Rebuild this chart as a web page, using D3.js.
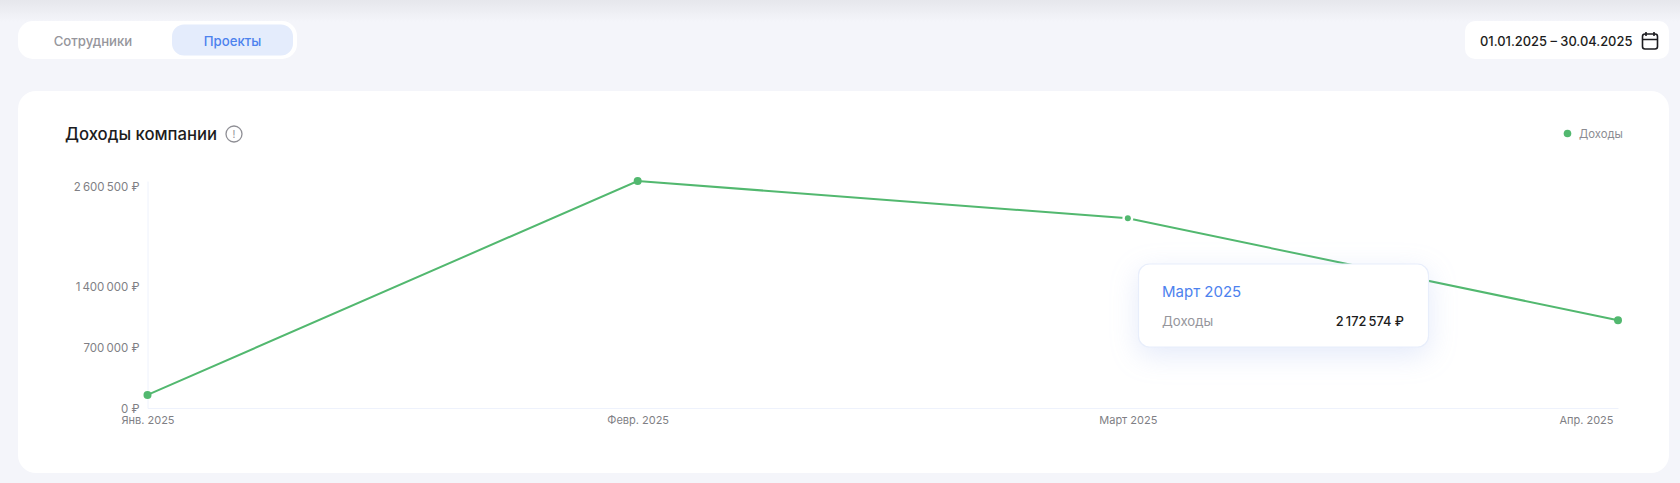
<!DOCTYPE html>
<html>
<head>
<meta charset="utf-8">
<script src="https://cdn.jsdelivr.net/npm/d3@7"></script>
<style>
html, body { margin: 0; padding: 0; background: #f4f5fa; overflow: hidden; }
svg { display: block; font-family: Inter, "Noto Sans", sans-serif; }
.axis text { fill: #7f7f85; font-family: Inter, sans-serif; }
.axis path, .axis line { stroke: #eef2fc; }
</style>
</head>
<body>
<svg id="board" width="1680" height="483"></svg>
<script>
const months = ["Янв. 2025", "Февр. 2025", "Март 2025", "Апр. 2025"];
const incomes = [150000, 2600500, 2172574, 1005000];
const yTicks = [0, 700000, 1400000, 2600500];
const tabs = ["Сотрудники", "Проекты"];
const activeMonth = 2;

const green = "#52b86f";
const blue = "#4d82ee";
const grey = "#8c8c92";
const dark = "#1c1c20";

const svg = d3.select("#board");
const money = d3.formatLocale({ decimal: ",", thousands: "\u2009", grouping: [3], currency: ["", " ₽"] }).format("$,d");

const defs = svg.append("defs");
const topFade = defs.append("linearGradient").attr("id", "topFade").attr("x1", 0).attr("x2", 0).attr("y1", 0).attr("y2", 1);
topFade.append("stop").attr("offset", 0).attr("stop-color", "#e6e7ec");
topFade.append("stop").attr("offset", 1).attr("stop-color", "#f4f5fa");

svg.append("rect").attr("width", 1680).attr("height", 22).attr("fill", "url(#topFade)");

// tabs
svg.append("rect").attr("x", 18).attr("y", 21).attr("width", 279).attr("height", 38).attr("rx", 15).attr("fill", "#fff");
svg.append("rect").attr("x", 172).attr("y", 24.5).attr("width", 121).attr("height", 31).attr("rx", 12).attr("fill", "#e4ecfc");
svg.append("text").attr("x", 93).attr("y", 45.5).attr("text-anchor", "middle").attr("font-size", 13.2).attr("font-weight", 500).attr("fill", "#96969c").text(tabs[0]);
svg.append("text").attr("x", 232.5).attr("y", 45.5).attr("text-anchor", "middle").attr("font-size", 13.2).attr("font-weight", 500).attr("fill", blue).text(tabs[1]);

// date picker
svg.append("rect").attr("x", 1465).attr("y", 21).attr("width", 204).attr("height", 38).attr("rx", 10).attr("fill", "#fff");
svg.append("text").attr("x", 1480).attr("y", 45.5).attr("font-size", 12.9).attr("font-weight", 500).attr("fill", dark).text("01.01.2025 – 30.04.2025");
const cal = svg.append("g").attr("fill", "none").attr("stroke", dark).attr("stroke-width", 1.6);
cal.append("rect").attr("x", 1642.5).attr("y", 34).attr("width", 15).attr("height", 15).attr("rx", 2.5);
cal.append("path").attr("d", "M1642.5 39.5H1657.5M1646 32V36M1654 32V36");

// main card
svg.append("rect").attr("x", 18).attr("y", 91).attr("width", 1651).attr("height", 382).attr("rx", 18).attr("fill", "#fff");
svg.append("text").attr("x", 65).attr("y", 139.5).attr("font-size", 16.7).attr("font-weight", 500).attr("fill", dark).text("Доходы компании");
const info = svg.append("g");
info.append("circle").attr("cx", 234).attr("cy", 134).attr("r", 8).attr("fill", "none").attr("stroke", "#8f8f95").attr("stroke-width", 1.3);
info.append("text").attr("x", 234).attr("y", 138).attr("text-anchor", "middle").attr("font-size", 10).attr("fill", "#8f8f95").text("!");

// legend
svg.append("circle").attr("cx", 1567.5).attr("cy", 133.5).attr("r", 3.8).attr("fill", green);
svg.append("text").attr("x", 1579).attr("y", 137.5).attr("font-size", 11.3).attr("fill", grey).text("Доходы");

// scales
const x = d3.scalePoint().domain(months).range([147.5, 1618]);
const y = d3.scaleLinear().domain([0, 2600500]).range([408, 181]);

const yAxis = svg.append("g").attr("class", "axis").attr("transform", "translate(147.5,0)")
    .call(d3.axisLeft(y).tickValues(yTicks).tickSize(0).tickPadding(8).tickFormat(money));
yAxis.selectAll("text").attr("font-size", 11.5).attr("dy", d => d === 2600500 ? "0.82em" : "0.42em");

const xAxis = svg.append("g").attr("class", "axis").attr("transform", "translate(0,408)")
    .call(d3.axisBottom(x).tickSize(0).tickPadding(8));
xAxis.selectAll("text").attr("font-size", 11);
xAxis.selectAll("text").filter(d => d === months[3]).attr("text-anchor", "end").attr("dx", -5).attr("x", 0);

// line
const line = d3.line().x((d, i) => x(months[i])).y(d => y(d));
svg.append("path").attr("d", line(incomes)).attr("fill", "none").attr("stroke", green).attr("stroke-width", 2);

svg.selectAll(".pt").data(incomes).enter().append("circle")
    .attr("class", "pt")
    .attr("cx", (d, i) => x(months[i]))
    .attr("cy", d => y(d))
    .attr("r", (d, i) => i === activeMonth ? 3 : 4)
    .attr("fill", green)
    .attr("stroke", (d, i) => i === activeMonth ? "#fff" : "none")
    .attr("stroke-width", 5)
    .style("paint-order", "stroke");

// tooltip
svg.append("rect").attr("x", 1138.5).attr("y", 264).attr("width", 290).attr("height", 83).attr("rx", 11)
    .attr("fill", "#fff").attr("stroke", "#e8eefb").attr("stroke-width", 1.2)
    .style("filter", "drop-shadow(0 8px 14px rgba(120,150,230,0.2))");
svg.append("text").attr("x", 1162).attr("y", 297).attr("font-size", 15).attr("fill", blue).text(months[activeMonth]);
svg.append("text").attr("x", 1162).attr("y", 326).attr("font-size", 13.2).attr("fill", "#96969c").text("Доходы");
svg.append("text").attr("x", 1404).attr("y", 326).attr("text-anchor", "end").attr("font-size", 12.8).attr("font-weight", 500).attr("fill", dark).text(money(incomes[activeMonth]));
</script>
</body>
</html>
